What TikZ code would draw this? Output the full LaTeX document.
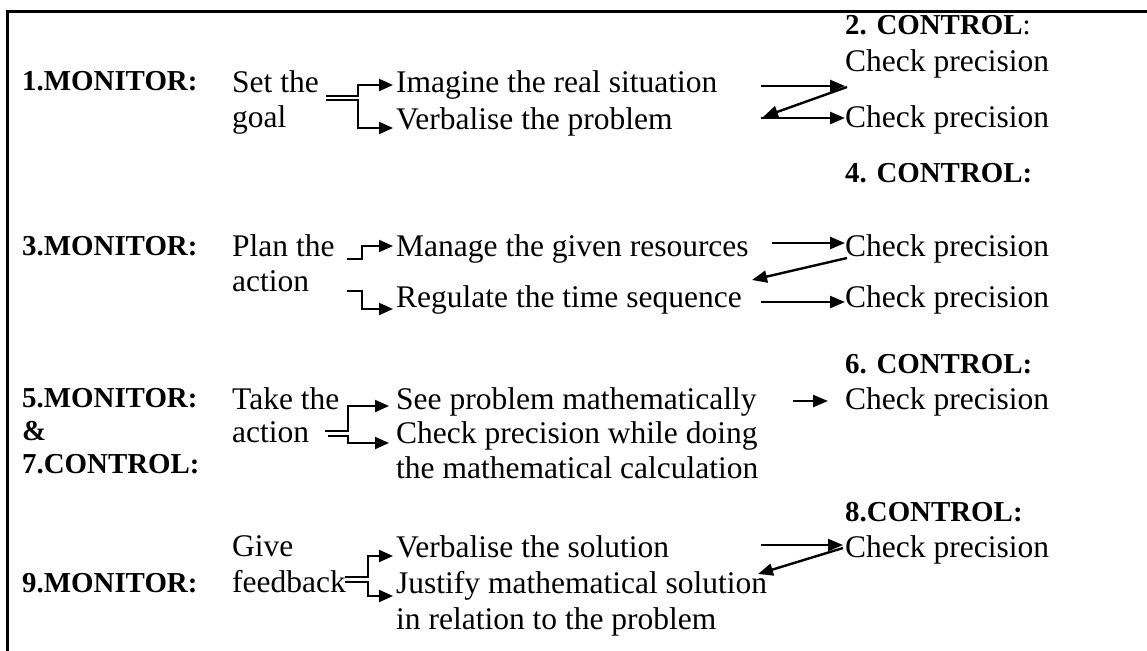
\documentclass[tikz,border=0pt]{standalone}
\usepackage{fontspec}
\setmainfont{Liberation Serif}
\usetikzlibrary{arrows.meta}
\begin{document}
\begin{tikzpicture}[x=1pt,y=-1pt,
  lab/.style={font=\fontsize{28.9}{34}\selectfont\bfseries, anchor=base west, inner sep=0pt},
  txt/.style={font=\fontsize{31.5}{36}\selectfont, anchor=base west, inner sep=0pt},
  arr/.style={line width=2.4pt, -{Triangle[length=15pt,width=12pt]}},
  fork/.style={line width=2pt, -{Triangle[length=14pt,width=12pt]}}]
\useasboundingbox (0,0) rectangle (1147,650);
\draw[line width=3pt] (1150,12) -- (7,12) -- (7,653);

% ---------- block 1
\node[lab] (m1) at (22,91) {1.MONITOR:};
\node[txt] (s1a) at (232,93) {Set the};
\node[txt] (s1b) at (232,128) {goal};
\node[txt] (i1a) at (396,93) {Imagine the real situation};
\node[txt] (i1b) at (396,129) {Verbalise the problem};
\node[lab] (c2) at (845,35) {2. CONTROL\textmd{:}};
\node[txt] (p1a) at (845,72) {Check precision};
\node[txt] (p1b) at (845,128) {Check precision};
\coordinate (f1u) at (326,96); \coordinate (f1ub) at (358,85);
\coordinate (f1l) at (326,100); \coordinate (f1lb) at (358,128);
\draw[fork] (f1u) -| (f1ub) -- ([xshift=-3pt]i1a.west |- f1ub);
\draw[fork] (f1l) -| (f1lb) -- ([xshift=-3pt]i1b.west |- f1lb);
\coordinate (r1a) at (761,86); \coordinate (r1b) at (847,87);
\coordinate (r1c) at (763,117); \coordinate (r1d) at (761,118);
\draw[arr] (r1a) -- (p1a.west |- r1a);
\draw[arr] (r1b) -- (r1c);
\draw[arr] (r1d) -- (p1b.west |- r1d);

% ---------- block 2
\node[lab] (c4) at (845,182) {4. CONTROL:};
\node[lab] (m3) at (22,255) {3.MONITOR:};
\node[txt] (s3a) at (232,256) {Plan the};
\node[txt] (s3b) at (232,291) {action};
\node[txt] (i3a) at (396,256) {Manage the given resources};
\node[txt] (i3b) at (396,307) {Regulate the time sequence};
\node[txt] (p3a) at (845,256) {Check precision};
\node[txt] (p3b) at (845,307) {Check precision};
\coordinate (f3u) at (347,259); \coordinate (f3ub) at (362,246);
\coordinate (f3l) at (347,291); \coordinate (f3lb) at (362,309);
\draw[fork] (f3u) -| (f3ub) -- ([xshift=-3pt]i3a.west |- f3ub);
\draw[fork] (f3l) -| (f3lb) -- ([xshift=-3pt]i3b.west |- f3lb);
\coordinate (r3a) at (772,243); \coordinate (r3b) at (847,258);
\coordinate (r3c) at (752,280); \coordinate (r3d) at (761,302);
\draw[arr] (r3a) -- (p3a.west |- r3a);
\draw[arr] (r3b) -- (r3c);
\draw[arr] (r3d) -- (p3b.west |- r3d);

% ---------- block 3
\node[lab] (c6) at (845,373) {6. CONTROL:};
\node[lab] (m5) at (22,407) {5.MONITOR:};
\node[lab] (amp) at (22,440) {\&};
\node[lab] (c7) at (22,473) {7.CONTROL:};
\node[txt] (s5a) at (232,409) {Take the};
\node[txt] (s5b) at (232,442) {action};
\node[txt] (i5a) at (396,409) {See problem mathematically};
\node[txt] (i5b) at (396,443) {Check precision while doing};
\node[txt] (i5c) at (396,478) {the mathematical calculation};
\node[txt] (p5) at (845,409) {Check precision};
\coordinate (f5u) at (325,431); \coordinate (f5ub) at (348,406);
\coordinate (f5l) at (328,436); \coordinate (f5lb) at (348,443);
\draw[fork] (f5u) -| (f5ub) -- ([xshift=-7pt]i5a.west |- f5ub);
\draw[fork] (f5l) -| (f5lb) -- ([xshift=-7pt]i5b.west |- f5lb);
\coordinate (r5a) at (793,401);
\draw[arr] (r5a) -- ([xshift=-17pt]p5.west |- r5a);

% ---------- block 4
\node[lab] (c8) at (845,521) {8.CONTROL:};
\node[txt] (p7) at (845,557) {Check precision};
\node[txt] (s7a) at (232,556) {Give};
\node[txt] (s7b) at (232,592) {feedback};
\node[lab] (m9) at (22,592) {9.MONITOR:};
\node[txt] (i7a) at (396,557) {Verbalise the solution};
\node[txt] (i7b) at (396,593) {Justify mathematical solution};
\node[txt] (i7c) at (396,629) {in relation to the problem};
\coordinate (f7u) at (345,577); \coordinate (f7ub) at (368,556);
\coordinate (f7l) at (345,582); \coordinate (f7lb) at (368,596);
\draw[fork] (f7u) -| (f7ub) -- ([xshift=-3pt]i7a.west |- f7ub);
\draw[fork] (f7l) -| (f7lb) -- ([xshift=-3pt]i7b.west |- f7lb);
\coordinate (r7a) at (761,545); \coordinate (r7b) at (843,548);
\coordinate (r7c) at (758,574);
\draw[arr] (r7a) -- ([xshift=-2pt]p7.west |- r7a);
\draw[arr] (r7b) -- (r7c);
\end{tikzpicture}
\end{document}
